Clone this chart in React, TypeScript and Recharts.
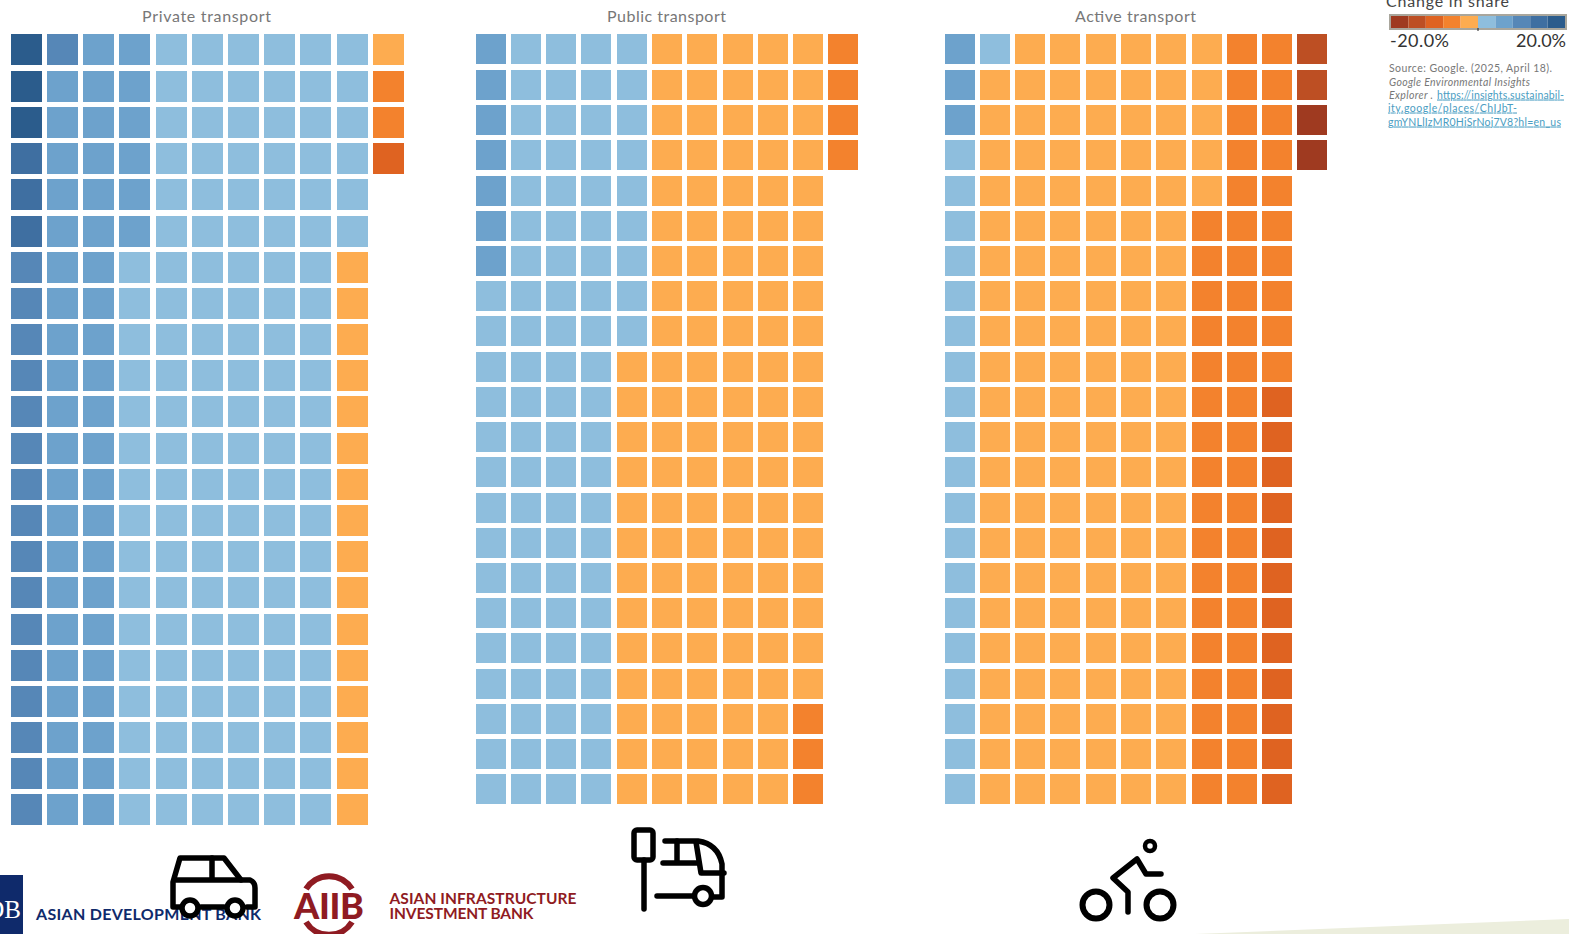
import { Bar, BarChart, Scatter, ScatterChart, XAxis, YAxis } from "recharts"

// change-in-share bins, from -20% (0) to +20% (9)
const binColors = ["#9F3A20", "#BD4F23", "#DF6321", "#F3822D", "#FDAC50", "#8EBEDD", "#6DA2CC", "#5687B7", "#3F6FA1", "#2B5C8C"]
const legendKeys = binColors.map((_, i) => "b" + i)

// one string per row, one digit per cell, "." = no cell
const privateRows = [
  "97665555554", "96665555553", "96665555553", "86665555552",
  "8666555555.", "8666555555.", "7665555554.", "7665555554.",
  "7665555554.", "7665555554.", "7665555554.", "7665555554.",
  "7665555554.", "7665555554.", "7665555554.", "7665555554.",
  "7665555554.", "7665555554.", "7665555554.", "7665555554.",
  "7665555554.", "7665555554.",
]
const publicRows = [
  "65555444443", "65555444443", "65555444443", "65555444443",
  "6555544444.", "6555544444.", "6555544444.", "5555544444.",
  "5555544444.", "5555444444.", "5555444444.", "5555444444.",
  "5555444444.", "5555444444.", "5555444444.", "5555444444.",
  "5555444444.", "5555444444.", "5555444444.", "5555444443.",
  "5555444443.", "5555444443.",
]
const activeRows = [
  "65444444331", "64444444331", "64444444330", "54444444330",
  "5444444433.", "5444444333.", "5444444333.", "5444444333.",
  "5444444333.", "5444444333.", "5444444332.", "5444444332.",
  "5444444332.", "5444444332.", "5444444332.", "5444444332.",
  "5444444332.", "5444444332.", "5444444332.", "5444444332.",
  "5444444332.", "5444444332.",
]

const toCells = (rows: string[]) =>
  rows.flatMap((row, r) =>
    row.split("").flatMap((ch, c) => (ch === "." ? [] : [{ col: c, row: r, bin: Number(ch) }]))
  )

const legendData = [Object.fromEntries(legendKeys.map((k) => [k, 1]))]

const font = "Lato, sans-serif"
const grey = "#777777"
const link = "#4A9DC2"

function Waffle({ rows, left, top, width, height, cellW, cellH }: any) {
  const Cell = (p: any) => (
    <rect
      x={Math.round(p.cx - cellW / 2)}
      // the first row sits a pixel higher than the even spacing gives
      y={Math.round(p.cy - cellH / 2) - (p.payload.row === 0 ? 1 : 0)}
      width={cellW}
      height={cellH}
      fill={binColors[p.payload.bin]}
    />
  )
  return (
    <div style={{ position: "absolute", left, top }}>
      <ScatterChart width={width} height={height} margin={{ top: 0, right: 0, bottom: 0, left: 0 }}>
        <XAxis type="number" dataKey="col" domain={[-0.5, 10.5]} hide />
        <YAxis type="number" dataKey="row" domain={[-0.5, 21.5]} reversed hide />
        <Scatter data={toCells(rows)} shape={Cell} isAnimationActive={false} />
      </ScatterChart>
    </div>
  )
}

function Legend() {
  return (
    <div style={{ position: "absolute", left: 1389, top: 14, width: 174, height: 12, border: "2px solid #A9A69C" }}>
      <BarChart
        width={174}
        height={12}
        layout="vertical"
        data={legendData}
        barCategoryGap={0}
        margin={{ top: 0, right: 0, bottom: 0, left: 0 }}
      >
        <XAxis type="number" domain={[0, 10]} hide />
        <YAxis type="category" hide />
        {legendKeys.map((k, i) => (
          <Bar key={k} dataKey={k} stackId="legend" fill={binColors[i]} isAnimationActive={false} />
        ))}
      </BarChart>
    </div>
  )
}

function Overlay() {
  const icon = { fill: "none", stroke: "#000", strokeWidth: 5.5, strokeLinejoin: "round" as const, strokeLinecap: "round" as const }
  return (
    <svg width={1569} height={934} style={{ position: "absolute", left: 0, top: 0 }}>
      <polygon points="1195,934 1569,919 1569,934" fill="#ECEEDD" />

      <text x={206.5} y={22} textAnchor="middle" fontFamily={font} fontSize={16} fill={grey} textLength={129}>Private transport</text>
      <text x={666.5} y={22} textAnchor="middle" fontFamily={font} fontSize={16} fill={grey} textLength={119}>Public transport</text>
      <text x={1135.5} y={22} textAnchor="middle" fontFamily={font} fontSize={16} fill={grey} textLength={121}>Active transport</text>

      <text x={1386} y={7} fontFamily={font} fontSize={16} fill="#444" textLength={123}>Change in share</text>
      <line x1={1478} x2={1478} y1={28} y2={31} stroke="#222" strokeWidth={1} />
      <text x={1390} y={47} fontFamily={font} fontSize={18} fill="#333" textLength={59}>-20.0%</text>
      <text x={1566} y={47} textAnchor="end" fontFamily={font} fontSize={18} fill="#333">20.0%</text>

      <g fontFamily={font} fontSize={10.5} fill={grey}>
        <text x={1389} y={72} textLength={163}>Source: Google. (2025, April 18).</text>
        <text x={1389} y={85.5} fontStyle="italic" textLength={141}>Google Environmental Insights</text>
        <text x={1389} y={98.5} fontStyle="italic" textLength={44}>Explorer .</text>
        <g fill={link} textDecoration="underline">
          <text x={1437} y={98.5} textLength={127}>https://insights.sustainabil-</text>
          <text x={1388} y={111.5} textLength={129}>ity.google/places/ChIJbT-</text>
          <text x={1388} y={125.5} textLength={173}>gmYNLlIzMR0HiSrNoj7V8?hl=en_us</text>
        </g>
      </g>

      {/* ADB logo */}
      <rect x={0} y={875} width={23} height={59} fill="#0F2A6B" />
      <text x={21} y={918} textAnchor="end" fontFamily="Liberation Serif, serif" fontSize={25} fill="#fff">DB</text>
      <text x={36} y={920} fontFamily={font} fontWeight={700} fontSize={16} fill="#0F2A6B" textLength={225}>ASIAN DEVELOPMENT BANK</text>

      {/* AIIB logo */}
      <g fill="none" stroke="#8F1B22" strokeWidth={6}>
        <path d="M306 889 A27 27 0 0 1 352 889" />
        <path d="M306 922 A27 27 0 0 0 352 922" />
      </g>
      <text x={294} y={919} fontFamily={font} fontWeight={900} fontSize={36} fill="#8F1B22" textLength={70}>AIIB</text>
      <g fontFamily={font} fontWeight={700} fontSize={15.5} fill="#8F1B22">
        <text x={389.5} y={903.5} textLength={187}>ASIAN INFRASTRUCTURE</text>
        <text x={389.5} y={919} textLength={144}>INVESTMENT BANK</text>
      </g>

      {/* car */}
      <g {...icon}>
        <path d="M180 907 H173 V882 L180 858 H224 L241 880 H250 Q255 882 255 888 V907 H247" />
        <path d="M176 880 H241 M212 858 V880 M201 907 H224" />
        <circle cx={190} cy={908} r={8} fill="#fff" />
        <circle cx={235} cy={908} r={8} fill="#fff" />
      </g>

      {/* bus stop */}
      <g {...icon}>
        <rect x={634} y={830} width={19} height={30} rx={3} />
        <path d="M644 860 V909" />
        <path d="M665 841 H698 Q718 844 722 864 V897 H714" />
        <path d="M657 896 H692 M663 863 H697 M677 841 V863" />
        <path d="M696 842 L701 873 H724" />
        <circle cx={703} cy={896} r={8.5} />
      </g>

      {/* cyclist */}
      <g {...icon}>
        <circle cx={1150} cy={846} r={5} strokeWidth={4.5} />
        <circle cx={1096} cy={905} r={13.5} strokeWidth={6} />
        <circle cx={1160} cy={905} r={13.5} strokeWidth={6} />
        <path d="M1128 912 V892 L1113 878 L1137 859 L1146 874 H1161" />
      </g>
    </svg>
  )
}

export default function App() {
  return (
    <div style={{ position: "absolute", left: 0, top: 0, width: 1569, height: 934, overflow: "hidden", background: "#fff" }}>
      <Waffle rows={privateRows} left={8} top={32} width={398.5} height={796} cellW={31} cellH={31} />
      <Waffle rows={publicRows} left={473} top={32} width={388} height={775} cellW={30} cellH={30} />
      <Waffle rows={activeRows} left={942} top={32} width={388} height={775} cellW={30} cellH={30} />
      <Legend />
      <Overlay />
    </div>
  )
}
